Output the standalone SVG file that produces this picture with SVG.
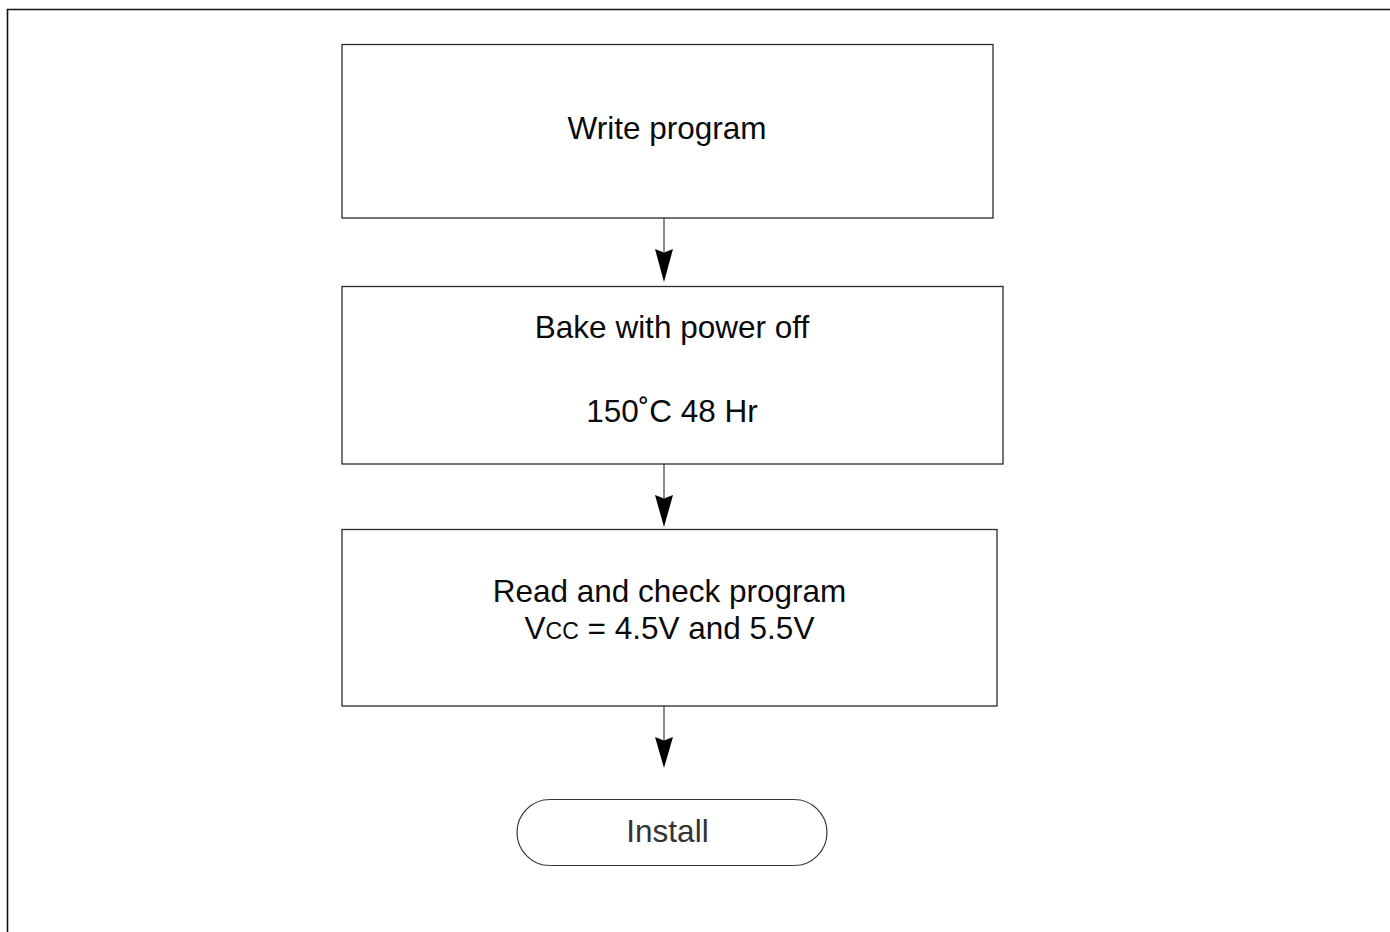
<svg xmlns="http://www.w3.org/2000/svg" width="1390" height="932" viewBox="0 0 1390 932">
  <style>
    .box { fill: #ffffff; stroke: #2a2a2a; stroke-width: 1.3; }
    .term { fill: #ffffff; stroke: #3a3a3a; stroke-width: 1.2; }
    .lbl { font-family: "Liberation Sans", Arial, sans-serif; font-size: 31.5px; fill: #0a0a0a; text-anchor: middle; }
    .lbl-term { fill: #333333; }
    .wire { stroke: #6e6e6e; stroke-width: 1.6; fill: none; }
    .head { fill: #000000; }
  </style>
  <rect width="1390" height="932" fill="#ffffff"/>
  <!-- page frame -->
  <path d="M7.5,932 V9.5 H1390" fill="none" stroke="#111111" stroke-width="1.6"/>

  <g id="connectors">
    <line class="wire" x1="664" y1="218" x2="664" y2="252"/>
    <path class="head" d="M655,249 L664,252.5 L673,249 L664,282 Z"/>
    <line class="wire" x1="664" y1="464" x2="664" y2="498"/>
    <path class="head" d="M655,495 L664,498.5 L673,495 L664,527 Z"/>
    <line class="wire" x1="664" y1="706" x2="664" y2="740"/>
    <path class="head" d="M655,737 L664,740.5 L673,737 L664,768 Z"/>
  </g>

  <g id="write-program">
    <rect class="box" x="342" y="44.5" width="651" height="173.5"/>
    <text class="lbl" x="667" y="139">Write program</text>
  </g>

  <g id="bake">
    <rect class="box" x="342" y="286.5" width="661" height="177.5"/>
    <text class="lbl" x="672" y="338">Bake with power off</text>
    <text class="lbl" x="672" y="422">150˚C 48 Hr</text>
  </g>

  <g id="read-check">
    <rect class="box" x="342" y="529.5" width="655" height="176.5"/>
    <text class="lbl" x="669.5" y="602">Read and check program</text>
    <text class="lbl" x="669.5" y="639">V<tspan font-size="23">CC</tspan> = 4.5V and 5.5V</text>
  </g>

  <g id="install">
    <rect class="term" x="517" y="799.5" width="310" height="66" rx="33" ry="33"/>
    <text class="lbl lbl-term" x="667.5" y="842">Install</text>
  </g>
</svg>
